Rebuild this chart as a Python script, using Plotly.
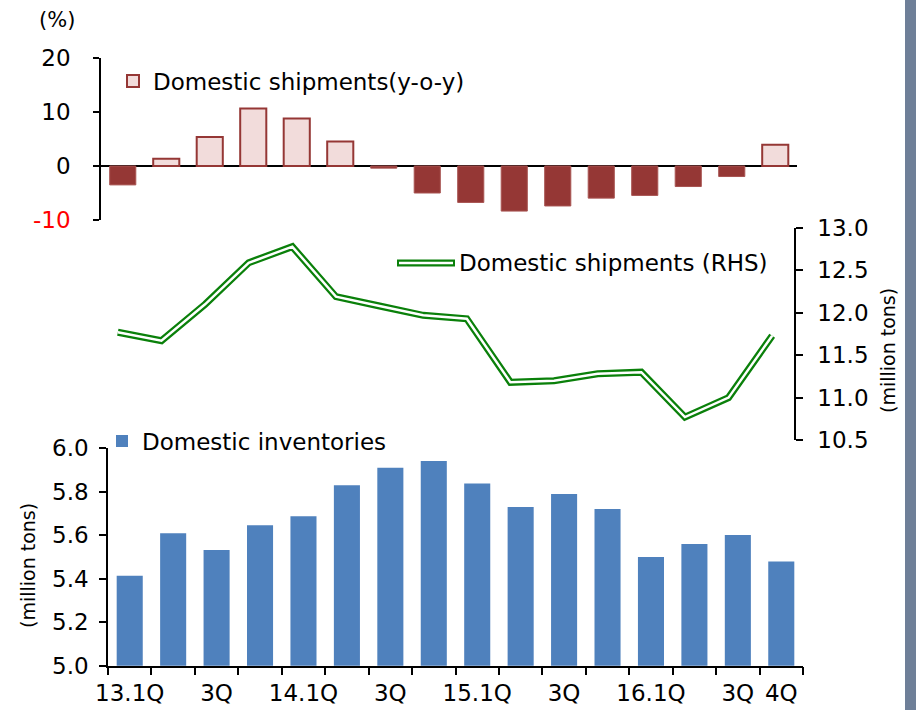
import plotly.graph_objects as go

categories = ["13.1Q", "13.2Q", "13.3Q", "13.4Q", "14.1Q", "14.2Q", "14.3Q", "14.4Q",
              "15.1Q", "15.2Q", "15.3Q", "15.4Q", "16.1Q", "16.2Q", "16.3Q", "16.4Q"]
tick_labels = ["13.1Q", "", "3Q", "", "14.1Q", "", "3Q", "", "15.1Q", "", "3Q", "",
               "16.1Q", "", "3Q", "4Q"]
shipments_yoy = [-3.5, 1.35, 5.35, 10.65, 8.8, 4.55, -0.4, -5.0, -6.75, -8.35, -7.4,
                 -5.95, -5.45, -3.8, -1.95, 3.95]
shipments = [11.77, 11.67, 12.1, 12.59, 12.78, 12.19, 12.08, 11.97, 11.93, 11.18, 11.2,
             11.28, 11.3, 10.77, 11.0, 11.73]
inventories = [5.414, 5.609, 5.532, 5.646, 5.687, 5.830, 5.911, 5.942, 5.838, 5.730,
               5.790, 5.721, 5.500, 5.560, 5.601, 5.479]

FONT = "DejaVu Sans"
W, H = 905, 710          # figure area; the page background to the right forms the frame stripe
DARK_RED = "#953735"
PINK = "#F2DCDB"
BLUE = "#4F81BD"
GREEN = "#0A800A"
STRIPE = "#6E7F98"


def px_x(v):
    return v / W


def px_y(v):
    return 1 - v / H


pos = [v if v >= 0 else None for v in shipments_yoy]
neg = [v if v < 0 else None for v in shipments_yoy]

fig = go.Figure()
fig.add_trace(go.Bar(x=categories, y=pos, name="Domestic shipments(y-o-y)",
                     marker=dict(color=PINK, line=dict(color=DARK_RED, width=2)),
                     width=0.6, xaxis="x", yaxis="y", legend="legend"))
fig.add_trace(go.Bar(x=categories, y=neg, name="Domestic shipments(y-o-y)", showlegend=False,
                     marker=dict(color=DARK_RED, line=dict(color="#A85452", width=1)),
                     width=0.6, xaxis="x", yaxis="y"))
fig.add_trace(go.Scatter(x=categories, y=shipments, mode="lines", name="Domestic shipments (RHS)",
                         line=dict(color=GREEN, width=7), xaxis="x2", yaxis="y2",
                         showlegend=False))
fig.add_trace(go.Scatter(x=categories, y=shipments, mode="lines", showlegend=False,
                         line=dict(color="white", width=2.5), xaxis="x2", yaxis="y2"))
fig.add_trace(go.Bar(x=categories, y=inventories, name="Domestic inventories",
                     marker=dict(color=BLUE, line=dict(width=0)), width=0.6,
                     xaxis="x3", yaxis="y3", legend="legend3"))

tickfont = dict(family=FONT, size=23, color="black")
legfont = dict(family=FONT, size=23, color="black")

fig.update_layout(
    width=W, height=H, autosize=False,
    margin=dict(l=0, r=0, t=0, b=0, autoexpand=False),
    paper_bgcolor="white", plot_bgcolor="white",
    barmode="overlay",
    font=dict(family=FONT, size=23, color="black"),
    xaxis=dict(domain=[px_x(101), px_x(797)], anchor="y", showticklabels=False,
               showline=False, ticks="", showgrid=False, zeroline=False, automargin=False,
               categoryorder="array", categoryarray=categories),
    yaxis=dict(domain=[px_y(220), px_y(58)], anchor="x", range=[-10, 20],
               tickvals=[-10, 0, 10, 20],
               ticktext=['<span style="color:#FF0000">-10</span>', "0", "10", "20"],
               showline=True, linecolor="black", linewidth=1.5, ticks="outside",
               ticklen=6, tickcolor="black", tickwidth=1.5, showgrid=False,
               zeroline=True, zerolinecolor="black", zerolinewidth=1.5, automargin=False,
               tickfont=tickfont, ticklabelstandoff=18),
    xaxis2=dict(domain=[px_x(96), px_x(794)], anchor="y2", visible=False, automargin=False,
                range=[-0.5, len(categories) - 0.5],
                categoryorder="array", categoryarray=categories),
    yaxis2=dict(domain=[px_y(440), px_y(228)], anchor="x2", side="right",
                range=[10.5, 13.0], dtick=0.5, tickformat=".1f", automargin=False,
                showline=True, linecolor="black", linewidth=1.5, ticks="outside",
                ticklen=7, tickcolor="black", tickwidth=1.5, showgrid=False,
                zeroline=False, tickfont=tickfont, ticklabelstandoff=10),
    xaxis3=dict(domain=[px_x(108), px_x(803)], anchor="y3", automargin=False,
                categoryorder="array", categoryarray=categories,
                tickmode="array", tickvals=categories, ticktext=tick_labels, tickangle=0,
                tickson="boundaries", ticks="outside", ticklen=8, tickcolor="black",
                tickwidth=1.5, showline=True, linecolor="black", linewidth=1.5,
                showgrid=False, zeroline=False, tickfont=tickfont, ticklabelstandoff=6),
    yaxis3=dict(domain=[px_y(665.7), px_y(448.3)], anchor="x3", range=[5.0, 6.0],
                dtick=0.2, tickformat=".1f", showline=True, linecolor="black",
                linewidth=1.5, ticks="outside", ticklen=7, tickcolor="black", automargin=False,
                tickwidth=1.5, showgrid=False, zeroline=False, tickfont=tickfont,
                ticklabelstandoff=6),
    legend=dict(x=px_x(113), y=px_y(81), xanchor="left", yanchor="middle",
                bgcolor="rgba(0,0,0,0)", font=legfont),
    legend3=dict(x=px_x(102), y=px_y(441), xanchor="left", yanchor="middle",
                 bgcolor="rgba(0,0,0,0)", font=legfont),
    annotations=[
        dict(text="(%)", x=px_x(57), y=px_y(20), xref="paper", yref="paper",
             xanchor="center", yanchor="middle",
             showarrow=False, font=dict(family=FONT, size=21, color="black")),
        dict(text="(million tons)", x=px_x(28), y=px_y(566), xref="paper", yref="paper",
             xanchor="center", yanchor="middle",
             showarrow=False, textangle=-90, font=dict(family=FONT, size=19, color="black")),
        dict(text="(million tons)", x=px_x(888), y=px_y(351), xref="paper", yref="paper",
             xanchor="center", yanchor="middle",
             showarrow=False, textangle=-90, font=dict(family=FONT, size=19, color="black")),
        # legend label for the double-line series
        dict(text="Domestic shipments (RHS)", x=px_x(457), y=px_y(263), xref="paper",
             yref="paper", xanchor="left", yanchor="middle", showarrow=False, font=legfont),
    ],
    shapes=[
        # legend sample of the double line
        dict(type="line", xref="paper", yref="paper", x0=px_x(397), x1=px_x(455),
             y0=px_y(263), y1=px_y(263), line=dict(color=GREEN, width=7), layer="above"),
        dict(type="line", xref="paper", yref="paper", x0=px_x(399), x1=px_x(453),
             y0=px_y(263), y1=px_y(263), line=dict(color="white", width=2.5), layer="above"),
    ],
)

fig.write_html(
    "out.html",
    config={"displayModeBar": False},
    post_script=("document.body.style.margin='0';"
                 "document.body.style.overflow='hidden';"
                 "document.documentElement.style.background='" + STRIPE + "';"
                 "document.body.style.background='" + STRIPE + "';"),
)
